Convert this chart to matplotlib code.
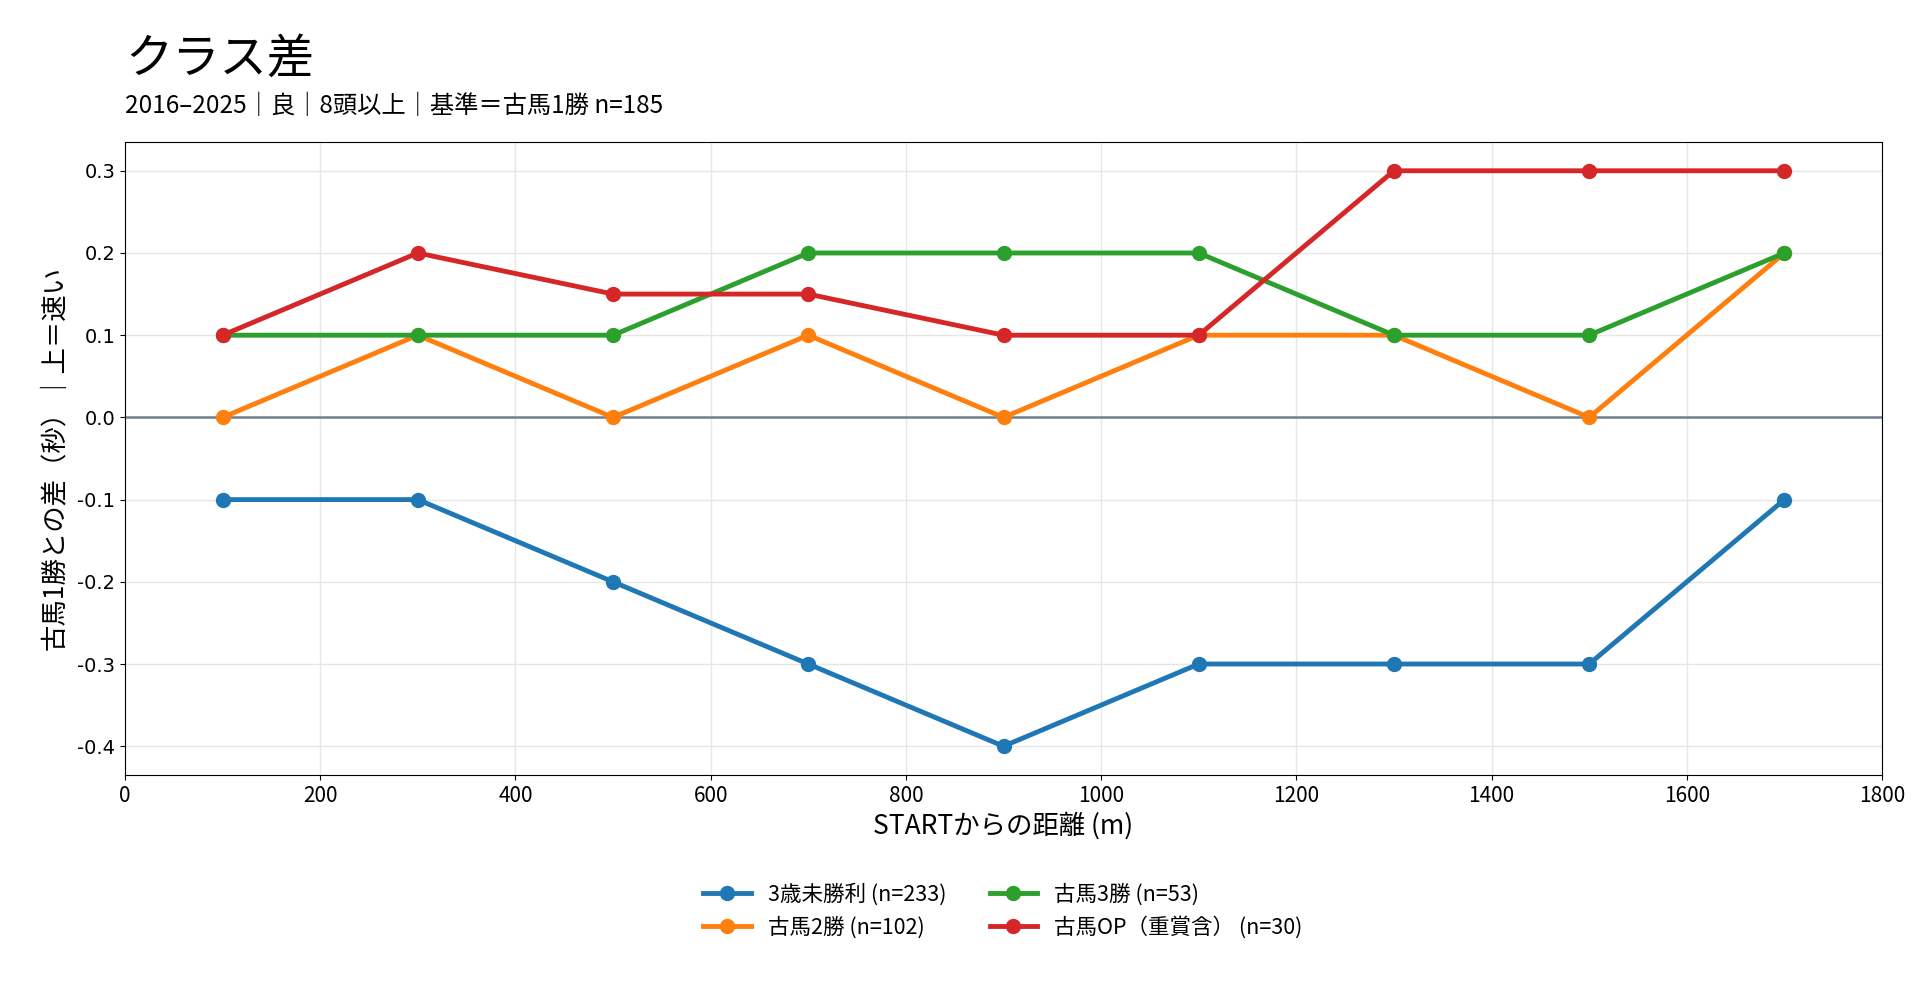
import numpy as np
import matplotlib
matplotlib.use("Agg")
from matplotlib import pyplot as plt

plt.rcParams['font.family'] = ['Noto Sans CJK JP', 'DejaVu Sans']

dist = [100, 300, 500, 700, 900, 1100, 1300, 1500, 1700]
labels = ["3歳未勝利 (n=233)", "古馬2勝 (n=102)", "古馬3勝 (n=53)", "古馬OP（重賞含） (n=30)"]
maiden3 = [-0.1, -0.1, -0.2, -0.3, -0.4, -0.3, -0.3, -0.3, -0.1]
win2 = [0.0, 0.1, 0.0, 0.1, 0.0, 0.1, 0.1, 0.0, 0.2]
win3 = [0.1, 0.1, 0.1, 0.2, 0.2, 0.2, 0.1, 0.1, 0.2]
open_cls = [0.1, 0.2, 0.15, 0.15, 0.1, 0.1, 0.3, 0.3, 0.3]
colors = ["#1f77b4", "#ff7f0e", "#2ca02c", "#d62728"]

fig = plt.figure(figsize=(19.2, 10.08), dpi=100)
ax = fig.add_axes([125/1920, 1 - 775/1008, (1882-125)/1920, (775-142)/1008])

ax.axhline(0, color="#708090", lw=1.8, zorder=1)
for ys, lab, c in zip([maiden3, win2, win3, open_cls], labels, colors):
    ax.plot(dist, ys, marker="o", ms=10, lw=3.5, color=c, label=lab, zorder=3)

ax.set_xlim(0, 1800)
ax.set_ylim(-0.435, 0.335)
ax.set_xticks(np.arange(0, 1801, 200))
yt = [-0.4, -0.3, -0.2, -0.1, 0.0, 0.1, 0.2, 0.3]
ax.set_yticks(yt)
ax.set_yticklabels(["%.1f" % v for v in yt], family="DejaVu Sans")
ax.tick_params(labelsize=15)
for t in ax.get_yticklabels():
    t.set_fontsize(14)
ax.grid(True, color="#e6e6e6", lw=1)
ax.set_axisbelow(True)

ax.set_xlabel("STARTからの距離 (m)", fontsize=19)
ax.set_ylabel("古馬1勝との差（秒）｜上＝速い", fontsize=19)
ax.yaxis.set_label_coords(-57/1757, 0.5)

fig.text(125/1920, 1 - 60/1008, "クラス差", fontsize=34, va="center", ha="left")
fig.text(125/1920, 1 - 106/1008, "2016–2025｜良｜8頭以上｜基準＝古馬1勝 n=185",
         fontsize=17.5, va="center", ha="left")

fig.legend(loc="center", bbox_to_anchor=(1003/1920, 1 - 911/1008), ncol=2,
           frameon=False, fontsize=15.5, columnspacing=2.0, handlelength=2.2)

fig.savefig("out.png", dpi=100)
